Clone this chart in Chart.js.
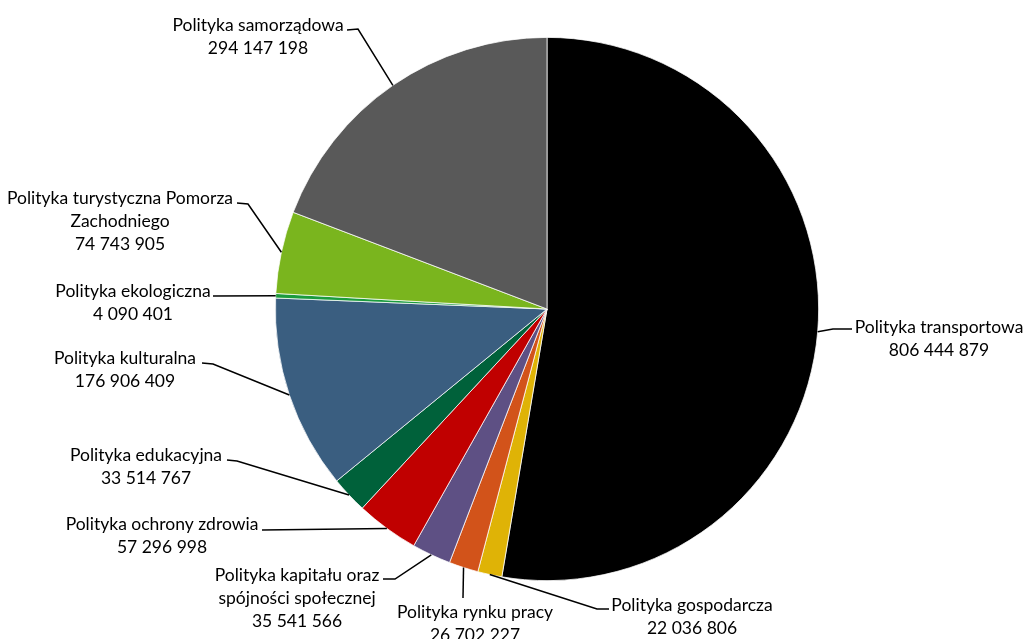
<!DOCTYPE html>
<html>
<head>
<meta charset="utf-8">
<script src="https://cdn.jsdelivr.net/npm/chart.js@4"></script>
<style>
    body { margin: 0; background: #fff; }
    #wrap { width: 1025px; height: 639px; position: relative; }
</style>
</head>
<body>
<div id="wrap"><canvas id="pieChart"></canvas></div>
<script>
// Chart data
const categories = [
    'Polityka transportowa',
    'Polityka gospodarcza',
    'Polityka rynku pracy',
    'Polityka kapitału oraz\nspójności społecznej',
    'Polityka ochrony zdrowia',
    'Polityka edukacyjna',
    'Polityka kulturalna',
    'Polityka ekologiczna',
    'Polityka turystyczna Pomorza\nZachodniego',
    'Polityka samorządowa'
];
const values = [806444879, 22036806, 26702227, 35541566, 57296998, 33514767, 176906409, 4090401, 74743905, 294147198];
const colors = ['#000000', '#DFB306', '#D2531A', '#5E5084', '#C00000', '#00613A', '#3A5E80', '#1B9B3E', '#7AB51E', '#595959'];

// Label placement: text centre + first line y, leader elbow and end point
const labelLayout = [
    { x: 939, y: 327, elbow: [833, 329], end: [852, 329] },
    { x: 692, y: 605, elbow: [597, 609], end: [609, 609] },
    { x: 475, y: 612, elbow: [463, 598], end: [463, 598] },
    { x: 297, y: 575, elbow: [395, 579], end: [383, 579] },
    { x: 162, y: 524, elbow: [262, 530], end: [262, 530] },
    { x: 146, y: 455, elbow: [237, 461], end: [227, 460] },
    { x: 125, y: 358, elbow: [213, 364], end: [202, 363] },
    { x: 133, y: 291, elbow: [213, 296], end: [213, 296] },
    { x: 120, y: 198, elbow: [248, 204], end: [237, 203] },
    { x: 258, y: 25, elbow: [358, 29], end: [347, 30] }
];

function formatValue(v) {
    return String(v).replace(/\B(?=(\d{3})+(?!\d))/g, ' ');
}

// Draws data labels with leader lines
const leaderLabels = {
    id: 'leaderLabels',
    afterDraw(chart) {
        const ctx = chart.ctx;
        const arcs = chart.getDatasetMeta(0).data;
        ctx.save();
        arcs.forEach((arc, i) => {
            const p = arc.getProps(['x', 'y', 'startAngle', 'endAngle', 'outerRadius'], true);
            const mid = (p.startAngle + p.endAngle) / 2;
            const sx = p.x + Math.cos(mid) * p.outerRadius;
            const sy = p.y + Math.sin(mid) * p.outerRadius;
            const lay = labelLayout[i];

            ctx.strokeStyle = '#000';
            ctx.lineWidth = 1.5;
            ctx.beginPath();
            ctx.moveTo(sx, sy);
            ctx.lineTo(lay.elbow[0], lay.elbow[1]);
            ctx.lineTo(lay.end[0], lay.end[1]);
            ctx.stroke();

            const lines = categories[i].split('\n').concat(formatValue(values[i]));
            ctx.fillStyle = '#000';
            ctx.font = '17.5px Lato';
            ctx.textAlign = 'center';
            ctx.textBaseline = 'middle';
            lines.forEach((line, k) => {
                ctx.fillText(line, lay.x, lay.y + k * 23);
            });
        });
        ctx.restore();
    }
};

const ctx = document.getElementById('pieChart').getContext('2d');
new Chart(ctx, {
    type: 'pie',
    data: {
        labels: categories,
        datasets: [{
            data: values,
            backgroundColor: colors,
            borderColor: '#ffffff',
            borderWidth: 0.75
        }]
    },
    options: {
        responsive: true,
        maintainAspectRatio: false,
        animation: false,
        layout: {
            padding: { left: 275, right: 206, top: 37, bottom: 58 }
        },
        plugins: {
            legend: { display: false },
            tooltip: { enabled: false }
        }
    },
    plugins: [leaderLabels]
});
</script>
</body>
</html>
